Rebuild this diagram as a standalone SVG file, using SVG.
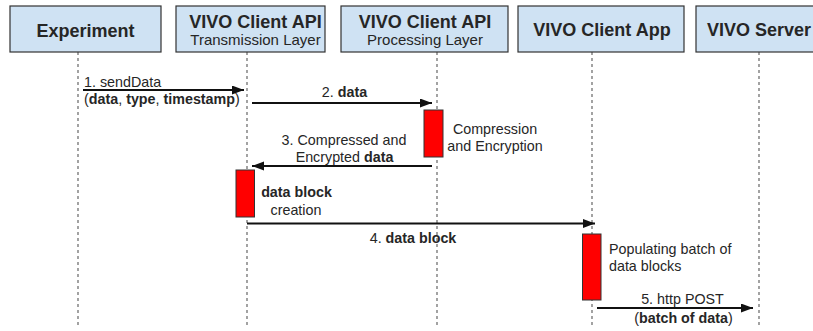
<svg xmlns="http://www.w3.org/2000/svg" width="813" height="331" viewBox="0 0 813 331">
<defs>
<style>
.box{fill:#cfe2f3;stroke:#333;stroke-width:1.2}
.life{stroke:#666;stroke-width:1.2;stroke-dasharray:3 3;fill:none}
.act{fill:#ff0000;stroke:#333;stroke-width:1}
.msg{stroke:#111;stroke-width:2;fill:none}
text{font-family:"Liberation Sans",Arial,sans-serif;fill:#262626}
.h{font-size:18px;font-weight:bold;text-anchor:middle}
.s{font-size:15px;text-anchor:middle}
.l{font-size:14.3px}
.c{text-anchor:middle}
.b{font-weight:bold}
</style>
<marker id="ah" markerUnits="userSpaceOnUse" markerWidth="13" markerHeight="10" refX="12" refY="4.5" orient="auto">
<path d="M0,0 L12,4.5 L0,9 z" fill="#111"/>
</marker>
</defs>
<rect width="813" height="331" fill="#fff"/>
<g id="lifelines">
<line class="life" x1="78" y1="52" x2="78" y2="325"/>
<line class="life" x1="247" y1="52" x2="247" y2="325"/>
<line class="life" x1="437" y1="52" x2="437" y2="325"/>
<line class="life" x1="592" y1="52" x2="592" y2="325"/>
<line class="life" x1="759" y1="52" x2="759" y2="325"/>
</g>
<g id="experiment">
<rect class="box" x="10" y="6" width="151" height="46"/>
<text class="h" x="85.5" y="37">Experiment</text>
</g>
<g id="transmission">
<rect class="box" x="176" y="6" width="149" height="46"/>
<text class="h" x="255.5" y="27.5">VIVO Client API</text>
<text class="s" x="255.5" y="44.5">Transmission Layer</text>
</g>
<g id="processing">
<rect class="box" x="341" y="6" width="167" height="46"/>
<text class="h" x="425" y="27.5">VIVO Client API</text>
<text class="s" x="425" y="44.5">Processing Layer</text>
</g>
<g id="clientapp">
<rect class="box" x="518" y="6" width="166" height="46"/>
<text class="h" x="602" y="36">VIVO Client App</text>
</g>
<g id="server">
<rect class="box" x="696" y="6" width="130" height="46"/>
<text class="h" x="759" y="36">VIVO Server</text>
</g>
<g id="activations">
<rect class="act" x="424" y="110" width="19" height="47"/>
<rect class="act" x="236" y="170" width="18.5" height="47"/>
<rect class="act" x="582.5" y="234" width="18.5" height="66"/>
</g>
<g id="connectors">
<line class="msg" x1="83" y1="90" x2="244" y2="90" marker-end="url(#ah)"/>
<line class="msg" x1="252" y1="103" x2="432" y2="103" marker-end="url(#ah)"/>
<line class="msg" x1="432" y1="166" x2="252" y2="166" marker-end="url(#ah)"/>
<line class="msg" x1="247" y1="223.5" x2="595" y2="223.5" marker-end="url(#ah)"/>
<line class="msg" x1="597" y1="308" x2="753" y2="308" marker-end="url(#ah)"/>
</g>
<g id="labels">
<text class="l" x="84" y="87">1. sendData</text>
<text class="l" x="84" y="104">(<tspan class="b">data</tspan>, <tspan class="b">type</tspan>, <tspan class="b">timestamp</tspan>)</text>
<text class="l c" x="344.5" y="97">2. <tspan class="b">data</tspan></text>
<text class="l c" x="495" y="134">Compression</text>
<text class="l c" x="495" y="151">and Encryption</text>
<text class="l c" x="344" y="145">3. Compressed and</text>
<text class="l c" x="344.5" y="162">Encrypted <tspan class="b">data</tspan></text>
<text class="l c b" x="296.5" y="197">data block</text>
<text class="l c" x="296" y="215">creation</text>
<text class="l c" x="413" y="243">4. <tspan class="b">data block</tspan></text>
<text class="l" x="609" y="254">Populating batch of</text>
<text class="l" x="609" y="271">data blocks</text>
<text class="l c" x="682.5" y="304">5. http POST</text>
<text class="l c" x="683.5" y="323">(<tspan class="b">batch of data</tspan>)</text>
</g>
</svg>
